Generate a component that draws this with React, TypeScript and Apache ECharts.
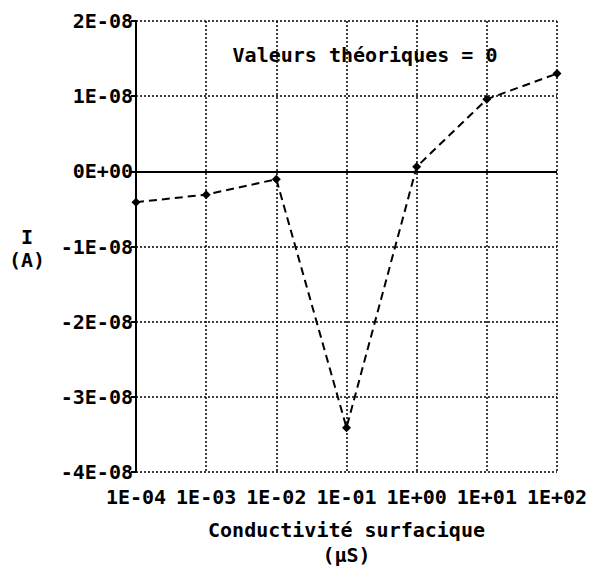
import React, { useEffect, useRef } from "react";
import * as echarts from "echarts";

const conductivity = [1e-4, 1e-3, 1e-2, 1e-1, 1e0, 1e1, 1e2];
const current = [-4.1e-9, -3.1e-9, -1.05e-9, -3.41e-8, 0.6e-9, 9.6e-9, 1.3e-8];
const yTicks = { min: -4e-8, max: 2e-8, interval: 1e-8 };
const xName = "Conductivité surfacique\n(µS)";
const yNameLines = ["I", "(A)"];
const note = "Valeurs théoriques = 0";

const FONT = "'DejaVu Sans Mono', 'Liberation Mono', monospace";

function sci(v: number): string {
  const s = v.toExponential(0);
  const m = s.match(/^(-?\d)e([+-])(\d+)$/);
  if (!m) return s;
  return `${m[1]}E${m[2]}${m[3].padStart(2, "0")}`;
}

export default function App() {
  const ref = useRef<HTMLDivElement>(null);
  useEffect(() => {
    if (!ref.current) return;
    const chart = echarts.init(ref.current, undefined, { renderer: "svg" });
    const data = conductivity.map((c, i) => [c, current[i]]);
    const txt = (text: string, x: number, y: number, size: number) => ({
      type: "text",
      x,
      y,
      style: {
        text,
        fontFamily: FONT,
        fontWeight: "bold",
        fontSize: size,
        fill: "#000",
        align: "center",
        verticalAlign: "middle",
      },
    });
    chart.setOption({
      animation: false,
      backgroundColor: "#ffffff",
      grid: { left: 136, right: 36, top: 21, bottom: 95 },
      xAxis: {
        type: "log",
        logBase: 10,
        min: 1e-4,
        max: 1e2,
        splitNumber: 5,
        name: xName,
        nameLocation: "middle",
        nameGap: 45,
        nameTextStyle: {
          fontFamily: FONT,
          fontWeight: "bold",
          fontSize: 20,
          color: "#000",
          lineHeight: 25,
        },
        axisLine: { show: false },
        axisTick: { show: false },
        axisLabel: {
          formatter: (v: number) => sci(v),
          fontFamily: FONT,
          fontWeight: "bold",
          fontSize: 20,
          color: "#000",
          margin: 15,
        },
        minorTick: { show: false },
        splitLine: {
          show: true,
          lineStyle: { color: "#000", width: 1.5, type: [2, 2] },
        },
      },
      yAxis: {
        type: "value",
        min: yTicks.min,
        max: yTicks.max,
        interval: yTicks.interval,
        axisLine: { show: true, onZero: false, lineStyle: { color: "#000", width: 2 } },
        axisTick: { show: true, length: 5, lineStyle: { color: "#000", width: 2 } },
        axisLabel: {
          formatter: (v: number) => sci(v),
          fontFamily: FONT,
          fontWeight: "bold",
          fontSize: 20,
          color: "#000",
          margin: 3,
        },
        splitLine: {
          show: true,
          lineStyle: { color: "#000", width: 1.5, type: [2, 2] },
        },
      },
      graphic: [
        txt(yNameLines[0], 27, 237, 20),
        txt(yNameLines[1], 27, 260, 20),
        txt(note, 365, 55, 20),
      ],
      series: [
        {
          type: "line",
          data,
          symbol: "diamond",
          symbolSize: 9,
          itemStyle: { color: "#000" },
          lineStyle: { color: "#000", width: 2, type: [8, 5] },
          markLine: {
            silent: true,
            symbol: "none",
            label: { show: false },
            lineStyle: { color: "#000", width: 2, type: "solid" },
            data: [{ yAxis: 0 }],
          },
        },
      ],
    });
    return () => chart.dispose();
  }, []);
  return (
    <div
      ref={ref}
      style={{ position: "fixed", left: 0, top: 0, width: 593, height: 572 }}
    />
  );
}
